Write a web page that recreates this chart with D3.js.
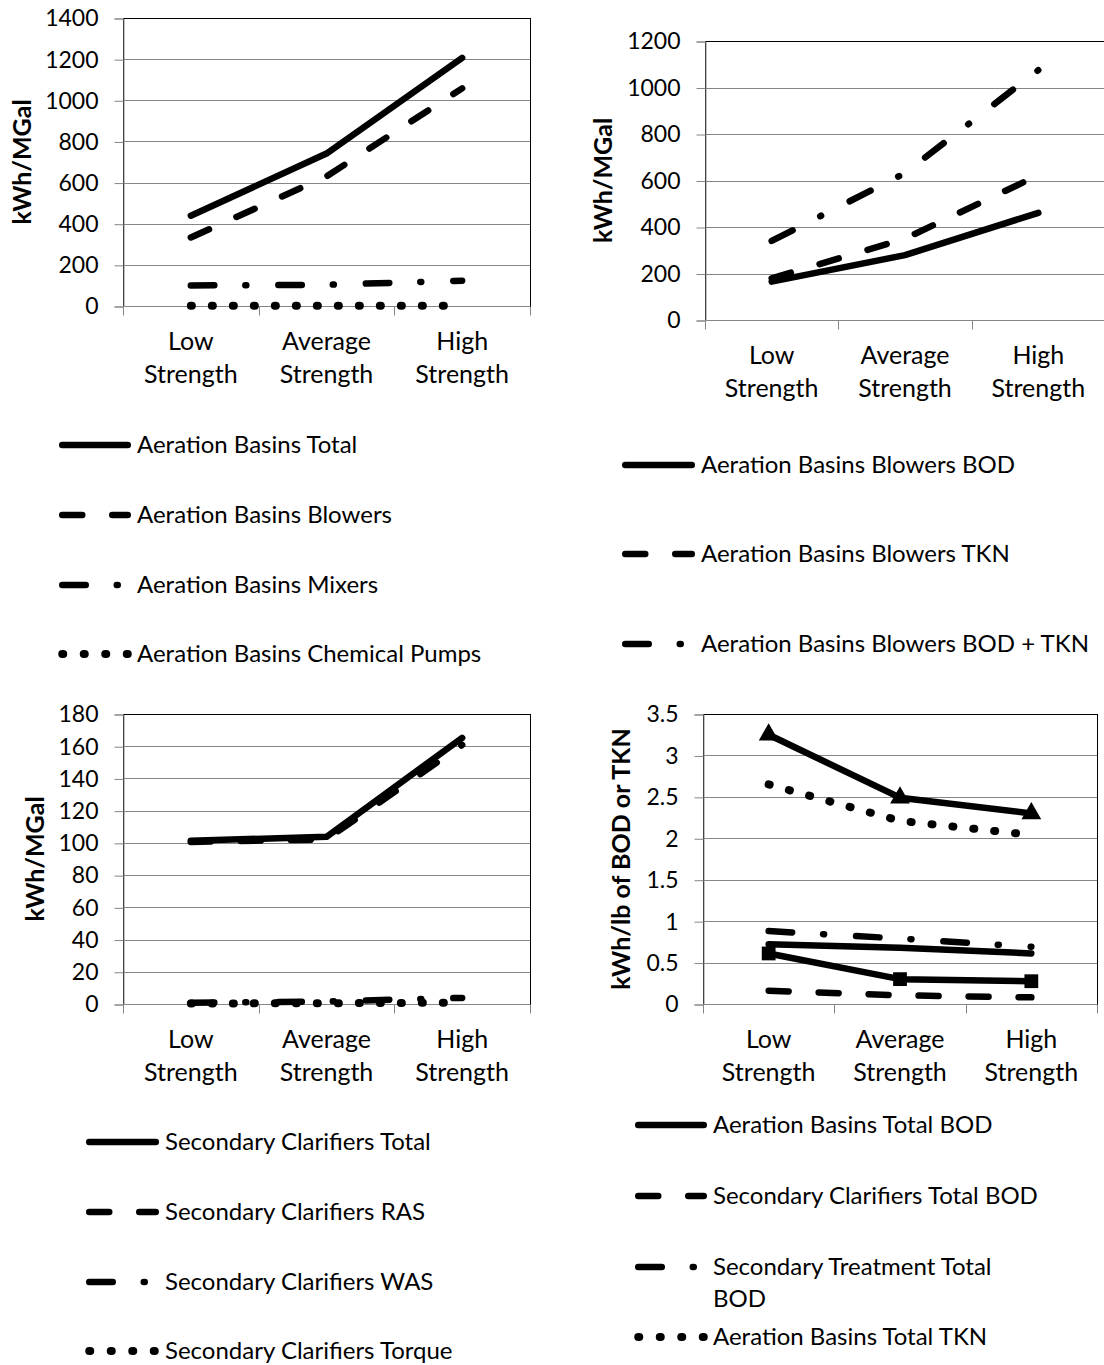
<!DOCTYPE html>
<html>
<head>
<meta charset="utf-8">
<script src="https://cdn.jsdelivr.net/npm/d3@7"></script>
<style>
  body { margin: 0; background: #fff; }
  svg { display: block; }
</style>
</head>
<body>
<div id="canvas"></div>
<script>
// categories shared by all four charts
var categories = ["Low Strength", "Average Strength", "High Strength"];

// top left: kWh/MGal
var ticksAeration = [0, 200, 400, 600, 800, 1000, 1200, 1400];
var aerationTotal = [439, 741, 1206];
var aerationBlowers = [333, 630, 1058];
var aerationMixers = [100, 103, 123];
var aerationChemPumps = [1, 1, 1];

// top right: kWh/MGal
var ticksBlowers = [0, 200, 400, 600, 800, 1000, 1200];
var blowersBOD = [165, 279, 461];
var blowersTKN = [179, 350, 623];
var blowersBODTKN = [340, 632, 1075];

// bottom left: kWh/MGal
var ticksClarifiers = [0, 20, 40, 60, 80, 100, 120, 140, 160, 180];
var clarifiersTotal = [101.3, 103.8, 165.2];
var clarifiersRAS = [100.6, 102.2, 160.8];
var clarifiersWAS = [0.8, 1.6, 3.8];
var clarifiersTorque = [0.3, 0.5, 0.8];

// bottom right: kWh/lb of BOD or TKN
var ticksPerLb = [0, 0.5, 1, 1.5, 2, 2.5, 3, 3.5];
var aerationTotalBOD = [0.72, 0.68, 0.61];
var clarifiersTotalBOD = [0.16, 0.105, 0.08];
var secondaryTotalBOD = [0.88, 0.79, 0.69];
var aerationTotalTKN = [2.65, 2.21, 2.04];
var clarifiersTotalTKN = [0.61, 0.30, 0.275];   // square markers, legend entry cut off
var secondaryTotalTKN = [3.25, 2.49, 2.30];     // triangle markers, legend entry cut off

var FONT = "Lato, 'Open Sans', sans-serif";
var FS_TICK = 23;
var FS = 25;
var FS_LEGEND = 24;
var LW = 6.5;
var dashes = {
    solid: null,
    dash: "20 30",
    dashDot: "23.5 31 1 32",
    dot: "1 20"
};

var svg = d3.select("#canvas")
    .append("svg")
        .attr("width", 1104)
        .attr("height", 1365)
        .style("font-family", FONT);

function drawPanel(cfg) {
    var g = svg.append("g");

    var xScale = d3.scaleBand()
        .domain(categories)
        .range([cfg.left, cfg.right]);

    var yScale = d3.scaleLinear()
        .domain([0, d3.max(cfg.ticks)])
        .range([cfg.bottom, cfg.top]);

    // gridlines
    g.selectAll(".grid")
        .data(cfg.ticks)
        .enter().append("line")
        .attr("x1", cfg.left)
        .attr("x2", cfg.right)
        .attr("y1", function(d) { return Math.round(yScale(d)) + 0.5; })
        .attr("y2", function(d) { return Math.round(yScale(d)) + 0.5; })
        .attr("stroke", "#868686")
        .attr("stroke-width", 1);

    // plot area border
    g.append("rect")
        .attr("x", cfg.left + 0.5)
        .attr("y", Math.round(cfg.top) + 0.5)
        .attr("width", cfg.right - cfg.left)
        .attr("height", Math.round(cfg.bottom) - Math.round(cfg.top))
        .attr("fill", "none")
        .attr("stroke", "#000")
        .attr("stroke-width", 1);

    // y axis
    var yAxis = d3.axisLeft(yScale)
        .tickValues(cfg.ticks)
        .tickSize(9)
        .tickPadding(16)
        .tickFormat(function(d) { return String(d); });

    var ya = g.append("g")
        .attr("transform", "translate(" + (cfg.left + 0.5) + ",0.5)")
        .call(yAxis);
    ya.select(".domain").attr("stroke", "#868686");
    ya.selectAll(".tick line").attr("stroke", "#868686");
    ya.selectAll("text")
        .attr("font-size", FS_TICK)
        .attr("font-family", FONT)
        .attr("fill", "#000");

    // x axis baseline and boundary ticks
    var yb = Math.round(cfg.bottom) + 0.5;
    g.append("line")
        .attr("x1", cfg.left).attr("x2", cfg.right)
        .attr("y1", yb).attr("y2", yb)
        .attr("stroke", "#868686");
    var bounds = categories.map(function(c) { return xScale(c); }).concat([cfg.right]);
    g.selectAll(".xtick")
        .data(bounds)
        .enter().append("line")
        .attr("x1", function(d) { return Math.round(d) + 0.5; })
        .attr("x2", function(d) { return Math.round(d) + 0.5; })
        .attr("y1", yb).attr("y2", yb + 9)
        .attr("stroke", "#868686");

    // category labels on two lines
    var cl = g.selectAll(".cat")
        .data(categories)
        .enter().append("text")
        .attr("text-anchor", "middle")
        .attr("font-size", FS)
        .attr("fill", "#000");
    cl.selectAll("tspan")
        .data(function(d) { return d.split(" ").map(function(w) { return { w: w, c: d }; }); })
        .enter().append("tspan")
        .attr("x", function(d) { return xScale(d.c) + xScale.bandwidth() / 2; })
        .attr("y", function(d, i) { return cfg.bottom + 35 + i * 33; })
        .attr("dy", "0.35em")
        .text(function(d) { return d.w; });

    // y title
    g.append("text")
        .attr("transform", "translate(" + cfg.titleX + "," + ((cfg.top + cfg.bottom) / 2) + ") rotate(-90)")
        .attr("text-anchor", "middle")
        .attr("dy", "0.35em")
        .attr("font-size", FS)
        .attr("font-weight", "bold")
        .attr("fill", "#000")
        .text(cfg.title);

    // series lines
    var line = d3.line()
        .x(function(d, i) { return xScale(categories[i]) + xScale.bandwidth() / 2; })
        .y(function(d) { return yScale(d); });

    cfg.series.forEach(function(s) {
        g.append("path")
            .datum(s.values)
            .attr("d", line)
            .attr("fill", "none")
            .attr("stroke", "#000")
            .attr("stroke-width", s.style === "dot" ? LW + 1.5 : LW)
            .attr("stroke-linecap", "round")
            .attr("stroke-linejoin", "round")
            .attr("stroke-dasharray", dashes[s.style]);

        if (s.marker) {
            g.selectAll(null)
                .data(s.values)
                .enter().append("path")
                .attr("d", d3.symbol()
                    .type(s.marker === "triangle" ? d3.symbolTriangle : d3.symbolSquare)
                    .size(s.marker === "triangle" ? 170 : 190))
                .attr("transform", function(d, i) {
                    return "translate(" + (xScale(categories[i]) + xScale.bandwidth() / 2) + "," + yScale(d) + ")";
                })
                .attr("fill", "#000");
        }
    });

    // legend
    var lg = g.append("g");
    cfg.series.filter(function(s) { return s.legendY; }).forEach(function(s) {
        lg.append("line")
            .attr("x1", cfg.legendX1 + LW / 2)
            .attr("x2", cfg.legendX2 - LW / 2)
            .attr("y1", s.legendY)
            .attr("y2", s.legendY)
            .attr("stroke", "#000")
            .attr("stroke-width", s.style === "dot" ? LW + 1.5 : LW)
            .attr("stroke-linecap", "round")
            .attr("stroke-dasharray", s.style === "dot" ? "1 20.5" : dashes[s.style]);
        var t = lg.append("text")
            .attr("font-size", FS_LEGEND)
            .attr("fill", "#000");
        s.name.split("\n").forEach(function(part, i) {
            t.append("tspan")
                .attr("x", cfg.legendX2 + 6)
                .attr("y", s.legendY + i * 32)
                .attr("dy", "0.35em")
                .text(part);
        });
    });
}

drawPanel({
    left: 123, right: 530, top: 18, bottom: 306,
    ticks: ticksAeration, title: "kWh/MGal", titleX: 22,
    legendX1: 59, legendX2: 131,
    series: [
        { name: "Aeration Basins Total", values: aerationTotal, style: "solid", legendY: 445 },
        { name: "Aeration Basins Blowers", values: aerationBlowers, style: "dash", legendY: 515 },
        { name: "Aeration Basins Mixers", values: aerationMixers, style: "dashDot", legendY: 585 },
        { name: "Aeration Basins Chemical Pumps", values: aerationChemPumps, style: "dot", legendY: 654 }
    ]
});

drawPanel({
    left: 705, right: 1105, top: 41, bottom: 320,
    ticks: ticksBlowers, title: "kWh/MGal", titleX: 603,
    legendX1: 622, legendX2: 695,
    series: [
        { name: "Aeration Basins Blowers BOD", values: blowersBOD, style: "solid", legendY: 465 },
        { name: "Aeration Basins Blowers TKN", values: blowersTKN, style: "dash", legendY: 554 },
        { name: "Aeration Basins Blowers BOD + TKN", values: blowersBODTKN, style: "dashDot", legendY: 644 }
    ]
});

drawPanel({
    left: 123, right: 530, top: 714, bottom: 1004,
    ticks: ticksClarifiers, title: "kWh/MGal", titleX: 35,
    legendX1: 86, legendX2: 159,
    series: [
        { name: "Secondary Clarifiers Total", values: clarifiersTotal, style: "solid", legendY: 1142 },
        { name: "Secondary Clarifiers RAS", values: clarifiersRAS, style: "dash", legendY: 1212 },
        { name: "Secondary Clarifiers WAS", values: clarifiersWAS, style: "dashDot", legendY: 1282 },
        { name: "Secondary Clarifiers Torque", values: clarifiersTorque, style: "dot", legendY: 1351 }
    ]
});

drawPanel({
    left: 703, right: 1097, top: 714, bottom: 1004,
    ticks: ticksPerLb, title: "kWh/lb of BOD or TKN", titleX: 621,
    legendX1: 635, legendX2: 707,
    series: [
        { name: "Aeration Basins Total BOD", values: aerationTotalBOD, style: "solid", legendY: 1125 },
        { name: "Secondary Clarifiers Total BOD", values: clarifiersTotalBOD, style: "dash", legendY: 1196 },
        { name: "Secondary Treatment Total\nBOD", values: secondaryTotalBOD, style: "dashDot", legendY: 1267 },
        { name: "Aeration Basins Total TKN", values: aerationTotalTKN, style: "dot", legendY: 1337 },
        { name: "Secondary Clarifiers Total TKN", values: clarifiersTotalTKN, style: "solid", marker: "square" },
        { name: "Secondary Treatment Total TKN", values: secondaryTotalTKN, style: "solid", marker: "triangle" }
    ]
});
</script>
</body>
</html>
